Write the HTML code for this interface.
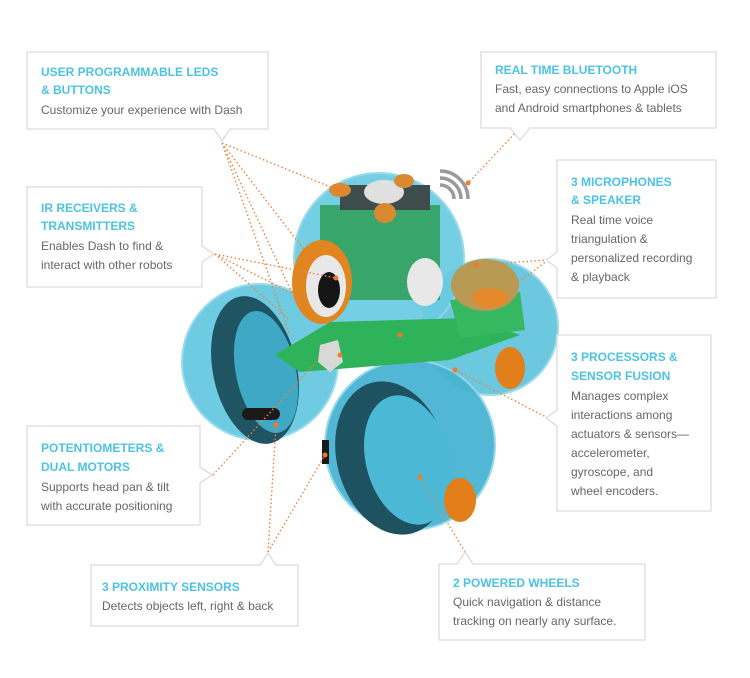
<!DOCTYPE html>
<html><head><meta charset="utf-8"><style>
html,body{margin:0;padding:0;background:#fff;width:750px;height:678px;overflow:hidden}
svg{display:block}
.t{font-family:"Liberation Sans",sans-serif;font-weight:bold;font-size:12px;fill:#4cc3e2}
.b{font-family:"Liberation Sans",sans-serif;font-size:12px;fill:#666}
.bx{fill:#fff;stroke:#dcdcdc;stroke-width:1.3}
.dl{stroke:#f0813a;stroke-width:1.4;stroke-dasharray:1.5 2.5;fill:none}
.dot{fill:#f07a2a}
</style></head><body>
<svg width="750" height="678" viewBox="0 0 750 678" xmlns="http://www.w3.org/2000/svg">
<!-- robot -->
<g>
<circle cx="260" cy="362" r="78" fill="#5fc6df" stroke="#8fd8ea" stroke-width="2" opacity=".9"/>
<circle cx="490" cy="327" r="68" fill="#5cc3dc" stroke="#8fd8ea" stroke-width="2" opacity=".9"/>
<circle cx="410" cy="445" r="85" fill="#48b4d2" stroke="#8fd8ea" stroke-width="2" opacity=".95"/>
<circle cx="379" cy="258" r="85" fill="#6acbe2" stroke="#8fd8ea" stroke-width="2" opacity=".92"/>
<!-- left wheel -->
<ellipse cx="255" cy="370" rx="42" ry="75" fill="#1f5563" transform="rotate(-12 255 370)"/>
<ellipse cx="266" cy="372" rx="30" ry="62" fill="#3fa8c4" transform="rotate(-12 266 372)"/>
<!-- bottom wheel -->
<ellipse cx="392" cy="458" rx="55" ry="78" fill="#1e5260" transform="rotate(-15 392 458)"/>
<ellipse cx="408" cy="460" rx="42" ry="66" fill="#4bb8d5" transform="rotate(-15 408 460)"/>
<!-- green boards -->
<polygon points="275,355 330,322 470,318 520,335 450,360 300,372" fill="#2fb35a"/>
<polygon points="450,300 520,292 525,330 460,338" fill="#35b85f"/>
<rect x="320" y="205" width="120" height="95" fill="#2e9d55" opacity=".85"/>
<rect x="340" y="185" width="90" height="25" fill="#3e4c4c"/>
<!-- speaker -->
<ellipse cx="485" cy="285" rx="34" ry="26" fill="#b89a55"/>
<ellipse cx="490" cy="298" rx="18" ry="10" fill="#e58a2a"/>
<!-- eye -->
<ellipse cx="322" cy="282" rx="30" ry="42" fill="#e08520"/>
<ellipse cx="326" cy="286" rx="20" ry="31" fill="#e8e8e8"/>
<ellipse cx="329" cy="290" rx="11" ry="18" fill="#151515"/>
<!-- white mic -->
<ellipse cx="425" cy="282" rx="18" ry="24" fill="#e8e8e8"/>
<ellipse cx="384" cy="192" rx="20" ry="12" fill="#e0e0e0"/>
<!-- buttons -->
<ellipse cx="340" cy="190" rx="11" ry="7" fill="#d98a30"/>
<ellipse cx="404" cy="181" rx="10" ry="7" fill="#d98a30"/>
<ellipse cx="385" cy="213" rx="11" ry="10" fill="#d98a30"/>
<!-- orange knobs -->
<ellipse cx="510" cy="368" rx="15" ry="21" fill="#e27f1b"/>
<ellipse cx="460" cy="500" rx="16" ry="22" fill="#e27f1b"/>
<!-- white pieces -->
<polygon points="320,345 338,340 343,362 330,372 318,362" fill="#d8d8d8"/>
<rect x="242" y="408" width="38" height="12" rx="6" fill="#1a1a1a"/>
<rect x="322" y="440" width="7" height="24" fill="#1a1a1a"/>
<!-- wifi -->
<g fill="none" stroke="#9a9a9a" stroke-width="3.5">
<path d="M440,185 a14,14 0 0 1 14,14"/>
<path d="M440,178 a21,21 0 0 1 21,21"/>
<path d="M440,171 a28,28 0 0 1 28,28"/>
</g>
</g>
<!-- connectors -->
<path class="dl" d="M222,143 L338,190 M222,143 L311,259 M222,143 L300,310 M222,143 L290,335"/>
<path class="dl" d="M215,254 L336,278 M215,254 L305,300 M215,254 L290,320"/>
<path class="dl" d="M520,128 L468,183"/>
<path class="dl" d="M548,260 L476,265 M548,260 L495,300"/>
<path class="dl" d="M548,418 L455,370"/>
<path class="dl" d="M213,475 L318,360"/>
<path class="dl" d="M268,552 L276,425 M268,552 L325,455"/>
<path class="dl" d="M465,552 L420,477"/>
<g class="dot">
<circle cx="338" cy="190" r="2.5"/><circle cx="311" cy="259" r="2.5"/><circle cx="336" cy="278" r="2.5"/>
<circle cx="468" cy="183" r="2.5"/><circle cx="476" cy="265" r="2.5"/><circle cx="455" cy="370" r="2.5"/>
<circle cx="276" cy="425" r="2.5"/><circle cx="325" cy="455" r="2.5"/><circle cx="420" cy="477" r="2.5"/>
<circle cx="340" cy="355" r="2.5"/><circle cx="400" cy="335" r="2.5"/>
</g>
<!-- boxes -->
<path class="bx" d="M27,52 H268 V129 H230 L222,141 L214,129 H27 Z"/>
<text class="t" x="41" y="76">USER PROGRAMMABLE LEDS</text>
<text class="t" x="41" y="94">&amp; BUTTONS</text>
<text class="b" x="41" y="114">Customize your experience with Dash</text>

<path class="bx" d="M27,187 H202 V246 L214,254 L202,262 V287 H27 Z"/>
<text class="t" x="41" y="212">IR RECEIVERS &amp;</text>
<text class="t" x="41" y="230">TRANSMITTERS</text>
<text class="b" x="41" y="250">Enables Dash to find &amp;</text>
<text class="b" x="41" y="269">interact with other robots</text>

<path class="bx" d="M481,52 H716 V128 H530 L520,140 L510,128 H481 Z"/>
<text class="t" x="495" y="74">REAL TIME BLUETOOTH</text>
<text class="b" x="495" y="93">Fast, easy connections to Apple iOS</text>
<text class="b" x="495" y="112">and Android smartphones &amp; tablets</text>

<path class="bx" d="M557,160 H716 V298 H557 V268 L546,260 L557,252 Z"/>
<text class="t" x="571" y="186">3 MICROPHONES</text>
<text class="t" x="571" y="204">&amp; SPEAKER</text>
<text class="b" x="571" y="224">Real time voice</text>
<text class="b" x="571" y="243">triangulation &amp;</text>
<text class="b" x="571" y="262">personalized recording</text>
<text class="b" x="571" y="281">&amp; playback</text>

<path class="bx" d="M557,335 H711 V511 H557 V426 L546,418 L557,410 Z"/>
<text class="t" x="571" y="361">3 PROCESSORS &amp;</text>
<text class="t" x="571" y="380">SENSOR FUSION</text>
<text class="b" x="571" y="400">Manages complex</text>
<text class="b" x="571" y="419">interactions among</text>
<text class="b" x="571" y="438">actuators &amp; sensors—</text>
<text class="b" x="571" y="457">accelerometer,</text>
<text class="b" x="571" y="476">gyroscope, and</text>
<text class="b" x="571" y="495">wheel encoders.</text>

<path class="bx" d="M27,426 H200 V467 L212,475 L200,483 V525 H27 Z"/>
<text class="t" x="41" y="452">POTENTIOMETERS &amp;</text>
<text class="t" x="41" y="471">DUAL MOTORS</text>
<text class="b" x="41" y="491">Supports head pan &amp; tilt</text>
<text class="b" x="41" y="510">with accurate positioning</text>

<path class="bx" d="M91,565 H260 L268,553 L276,565 H298 V626 H91 Z"/>
<text class="t" x="102" y="591">3 PROXIMITY SENSORS</text>
<text class="b" x="102" y="610">Detects objects left, right &amp; back</text>

<path class="bx" d="M439,564 H457 L465,552 L473,564 H645 V640 H439 Z"/>
<text class="t" x="453" y="587">2 POWERED WHEELS</text>
<text class="b" x="453" y="606">Quick navigation &amp; distance</text>
<text class="b" x="453" y="625">tracking on nearly any surface.</text>
</svg>
</body></html>
